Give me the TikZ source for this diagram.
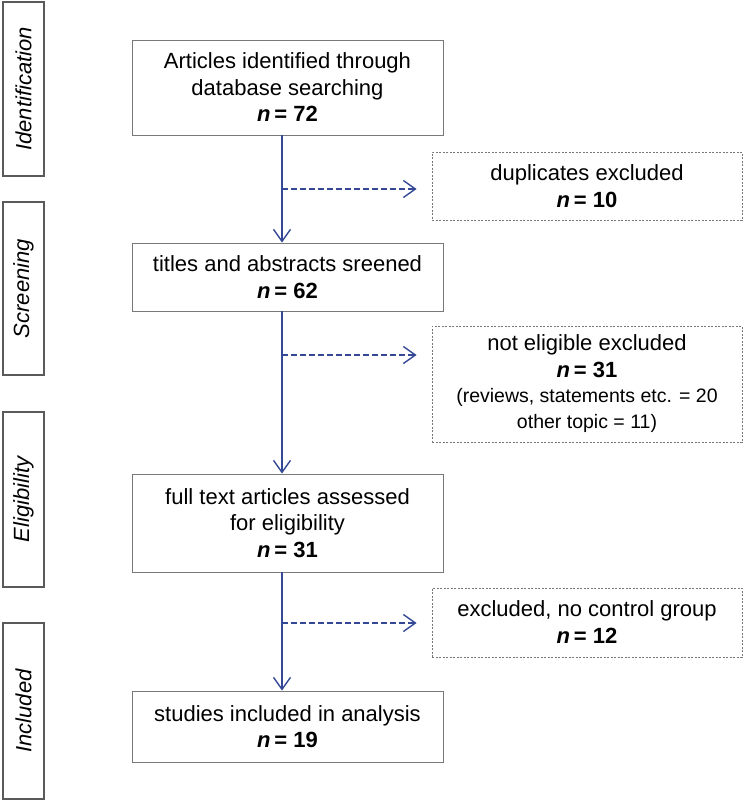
\documentclass[tikz,border=0pt]{standalone}
\usepackage{fontspec}
\setmainfont{Liberation Sans}
\usetikzlibrary{arrows.meta}
\definecolor{arrowblue}{RGB}{52,72,150}
\definecolor{boxgray}{RGB}{120,120,120}
\definecolor{sidegray}{RGB}{90,90,90}
\newcommand{\nval}[1]{{\bfseries\itshape n}\,\textbf{= #1}}
\tikzset{
  mainbox/.style={draw=boxgray, line width=0.9pt, minimum width=311pt, inner sep=0pt, align=center, font=\fontsize{22}{26.5}\selectfont},
  sidebox/.style={draw=sidegray, line width=1.1pt, minimum width=41pt, inner sep=0pt, rotate=90, font=\fontsize{22}{26}\selectfont\itshape},
  exbox/.style={draw=boxgray, line width=0.8pt, dash pattern=on 2pt off 1.5pt, minimum width=310pt, inner sep=0pt, align=center, font=\fontsize{22}{27}\selectfont},
  flow/.style={draw=arrowblue, line width=1.4pt, -{Straight Barb[length=12pt,width=17pt,line width=1.4pt]}},
  dflow/.style={draw=arrowblue, line width=1.4pt, dash pattern=on 6pt off 3pt, -{Straight Barb[length=12pt,width=17pt,line width=1.4pt]}, shorten >=15pt}
}
\begin{document}
\begin{tikzpicture}[x=1pt,y=1pt]
\useasboundingbox (0,0) rectangle (745,-801);
% side phase labels (rotated: minimum width becomes height)
\node[sidebox, minimum height=41pt, minimum width=174pt] (s1) at (23.5,-89) {Identification};
\node[sidebox, minimum height=41pt, minimum width=173pt] (s2) at (23.5,-288.5) {Screening};
\node[sidebox, minimum height=41pt, minimum width=175pt] (s3) at (23.5,-499.5) {Eligibility};
\node[sidebox, minimum height=41pt, minimum width=176pt] (s4) at (23.5,-711) {Included};
% main boxes
\node[mainbox, minimum height=95pt] (b1) at (287.5,-87.5) {Articles identified through\\database searching\\\nval{72}};
\node[mainbox, minimum height=68pt] (b2) at (287.5,-277) {titles and abstracts sreened\\\nval{62}};
\node[mainbox, minimum height=98pt] (b3) at (287.5,-523) {full text articles assessed\\for eligibility\\\nval{31}};
\node[mainbox, minimum height=71pt] (b4) at (287.5,-726.5) {studies included in analysis\\\nval{19}};
% excluded boxes
\node[exbox, minimum height=116pt] (e2) at (587,-384) {not eligible excluded\\\nval{31}\\[-2pt]{\fontsize{19.5}{23}\selectfont (reviews, statements etc. = 20}\\[-1pt]{\fontsize{19.5}{23}\selectfont other topic = 11)}};
\node[exbox, minimum height=68pt] (e1) at (587,-186) {duplicates excluded\\\nval{10}};
\node[exbox, minimum height=69pt] (e3) at (587,-622.5) {excluded, no control group\\\nval{12}};
% flow line x position
\coordinate (ax) at (282,0);
\coordinate (d1) at (282,-189);
\coordinate (d2) at (282,-355);
\coordinate (d3) at (282,-623);
\draw[flow] (b1.south -| ax) -- (b2.north -| ax);
\draw[flow] (b2.south -| ax) -- (b3.north -| ax);
\draw[flow] (b3.south -| ax) -- (b4.north -| ax);
\draw[dflow] (d1) -- (d1 -| e1.west);
\draw[dflow] (d2) -- (d2 -| e2.west);
\draw[dflow] (d3) -- (d3 -| e3.west);
\end{tikzpicture}
\end{document}
